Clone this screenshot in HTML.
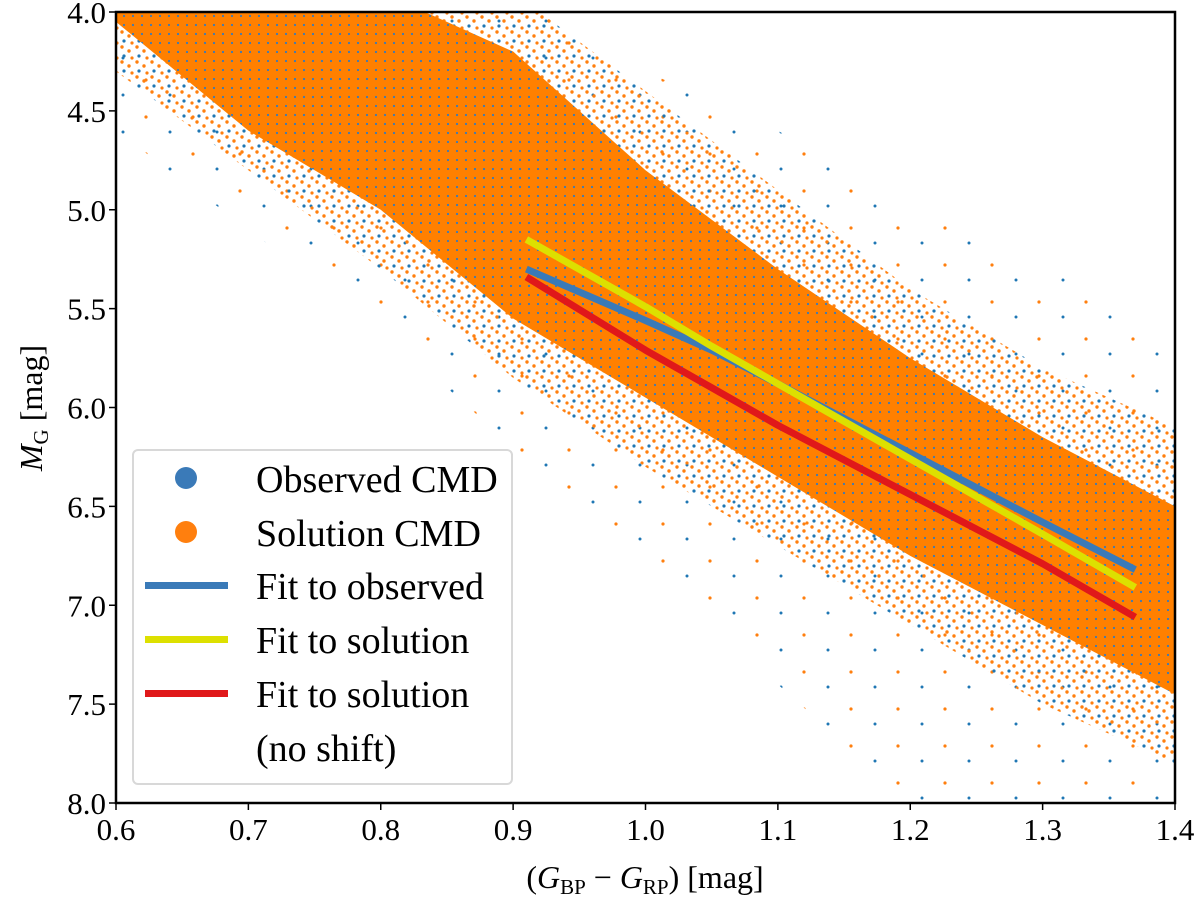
<!DOCTYPE html>
<html><head><meta charset="utf-8"><style>
html,body{margin:0;padding:0;background:#fff;}
svg{display:block;font-family:"Liberation Serif","DejaVu Serif",serif;}
</style></head><body>
<svg id="chart" width="1200" height="902" viewBox="0 0 1200 902">
<defs>
<pattern id="dense" width="9" height="9" patternUnits="userSpaceOnUse">
<rect width="9" height="9" fill="#ff8000"/>
<circle cx="7" cy="7" r="1.1" fill="#3a7ab8"/>
</pattern>
<pattern id="fringe" width="15" height="15" patternUnits="userSpaceOnUse">
<circle cx="2" cy="2" r="1.7" fill="#ff7f0e"/><circle cx="9" cy="6" r="1.7" fill="#ff7f0e"/>
<circle cx="4" cy="11" r="1.6" fill="#1f77b4"/><circle cx="12" cy="13" r="1.6" fill="#ff7f0e"/>
</pattern>
<pattern id="sparse" width="47" height="37" patternUnits="userSpaceOnUse">
<circle cx="5" cy="6" r="1.6" fill="#ff7f0e"/><circle cx="29" cy="21" r="1.5" fill="#1f77b4"/>
</pattern>
<clipPath id="plotclip"><rect x="116" y="12" width="1059" height="791"/></clipPath>
</defs>
<g id="plot" clip-path="url(#plotclip)"></g>
<g id="axes"></g>
</svg>
<script>
// data (x = colour, y = M_G)
const bandX = [0.55, 0.6, 0.7, 0.8, 0.9, 1.0, 1.1, 1.2, 1.3, 1.4, 1.45];
const coreUpper = [3.7, 3.75, 3.85, 3.9, 4.2, 4.8, 5.3, 5.75, 6.15, 6.5, 6.7];
const coreLower = [3.9, 4.05, 4.6, 5.0, 5.55, 5.95, 6.35, 6.75, 7.1, 7.45, 7.6];
const fringeUpper = [3.7, 3.7, 3.7, 3.8, 3.9, 4.4, 4.9, 5.4, 5.8, 6.1, 6.3];
const fringeLower = [4.1, 4.3, 4.8, 5.3, 5.85, 6.3, 6.7, 7.1, 7.5, 7.8, 8.0];
const sparseUpper = [3.7, 3.7, 3.7, 3.8, 3.9, 4.3, 4.6, 5.0, 5.3, 5.6, 5.8];
const sparseLower = [4.4, 4.6, 5.1, 5.6, 6.2, 6.8, 7.4, 8.0, 8.3, 8.5, 8.5];
const fitX = [0.91, 1.0, 1.05, 1.1, 1.2, 1.3, 1.37];
const fitObserved = [5.30, 5.56, 5.71, 5.88, 6.23, 6.58, 6.82];
const fitSolution = [5.15, 5.49, 5.69, 5.88, 6.26, 6.64, 6.91];
const fitNoShift = [5.34, 5.71, 5.90, 6.09, 6.44, 6.79, 7.06];
const xTicks = [0.6, 0.7, 0.8, 0.9, 1.0, 1.1, 1.2, 1.3, 1.4];
const yTicks = [4.0, 4.5, 5.0, 5.5, 6.0, 6.5, 7.0, 7.5, 8.0];

const X0=116, X1=1175, Y0=12, Y1=803;
const sx = v => X0 + (v-0.6)/(1.4-0.6)*(X1-X0);
const sy = v => Y0 + (v-4.0)/(8.0-4.0)*(Y1-Y0);
const NS="http://www.w3.org/2000/svg";
function mk(t,a,p){const e=document.createElementNS(NS,t);for(const k in a)e.setAttribute(k,a[k]);p.appendChild(e);return e;}
const plot=document.getElementById('plot'), axes=document.getElementById('axes');

function bandPath(up,lo){
  let d=bandX.map((x,i)=>(i?'L':'M')+sx(x)+' '+sy(up[i])).join(' ');
  for(let i=bandX.length-1;i>=0;i--) d+=' L'+sx(bandX[i])+' '+sy(lo[i]);
  return d+' Z';
}
let e;
e=mk('path',{d:bandPath(sparseUpper,sparseLower),fill:'url(#sparse)'},plot);


e=mk('path',{d:bandPath(fringeUpper,fringeLower),fill:'url(#fringe)'},plot);


e=mk('path',{d:bandPath(coreUpper,coreLower),fill:'url(#dense)'},plot);



function line(ys,color,name){
  const pts=fitX.map((x,i)=>sx(x)+','+sy(ys[i])).join(' ');
  const l=mk('polyline',{points:pts,fill:'none',stroke:color,'stroke-width':7,'stroke-linejoin':'round'},plot);
  
  
}
line(fitObserved,'#3a7ab8','fit-observed-line');
line(fitSolution,'#dde000','fit-solution-line');
line(fitNoShift,'#e0181a','fit-no-shift-line');

e=mk('rect',{x:X0,y:Y0,width:X1-X0,height:Y1-Y0,fill:'none',stroke:'#000','stroke-width':2.5},axes);


xTicks.forEach(v=>{
  mk('line',{x1:sx(v),x2:sx(v),y1:Y1,y2:Y1+7,stroke:'#000','stroke-width':1.5},axes);
  const t=mk('text',{x:sx(v),y:Y1+37,'text-anchor':'middle','font-size':31},axes);
  t.textContent=v.toFixed(1);
  
  
});
yTicks.forEach(v=>{
  mk('line',{x1:X0-7,x2:X0,y1:sy(v),y2:sy(v),stroke:'#000','stroke-width':1.5},axes);
  const t=mk('text',{x:X0-10,y:sy(v)+11,'text-anchor':'end','font-size':31},axes);
  t.textContent=v.toFixed(1);
  
  
});
</script>
<svg style="position:absolute;left:0;top:0" width="1200" height="902">
<text x="645" y="888" text-anchor="middle" font-size="32" font-family="Liberation Serif,serif">(<tspan font-style="italic">G</tspan><tspan font-size="21" dy="6">BP</tspan><tspan dy="-6"> − </tspan><tspan font-style="italic">G</tspan><tspan font-size="21" dy="6">RP</tspan><tspan dy="-6">) [mag]</tspan></text>
<g transform="translate(42,408) rotate(-90)"><text x="0" y="0" text-anchor="middle" font-size="32" font-family="Liberation Serif,serif"><tspan font-style="italic">M</tspan><tspan font-size="21" dy="6">G</tspan><tspan dy="-6"> [mag]</tspan></text></g>
<g font-family="Liberation Serif,serif" font-size="38">
<rect x="133" y="450" width="379" height="334" rx="5" fill="#fff" fill-opacity="0.85" stroke="#d8d8d8" stroke-width="2"/>
<circle cx="186" cy="478" r="11" fill="#3a7ab8"/>
<text x="256" y="492">Observed CMD</text>
<circle cx="186" cy="532" r="11" fill="#ff7f0e"/>
<text x="256" y="546">Solution CMD</text>
<rect x="145" y="582" width="83" height="7" fill="#3a7ab8"/>
<text x="256" y="599">Fit to observed</text>
<rect x="145" y="636" width="83" height="7" fill="#dde000"/>
<text x="256" y="653">Fit to solution</text>
<rect x="145" y="690" width="83" height="7" fill="#e0181a"/>
<text x="256" y="707">Fit to solution</text>
<text x="256" y="761">(no shift)</text>
</g>
</svg>
</body></html>
